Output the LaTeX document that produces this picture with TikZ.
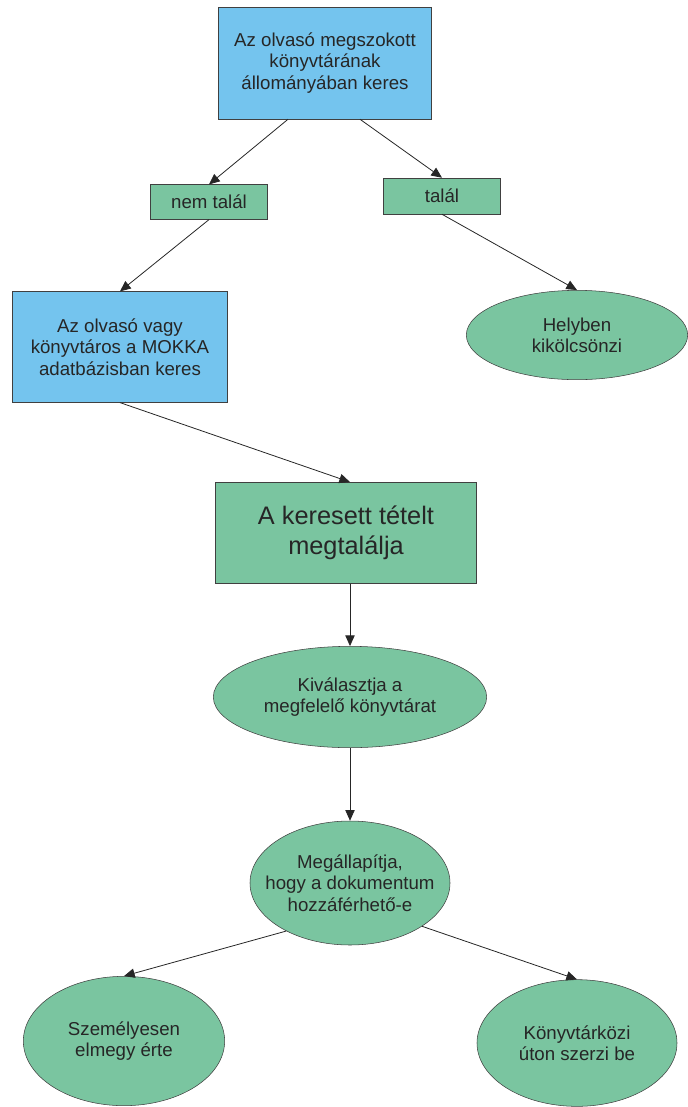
\documentclass[tikz,border=0pt]{standalone}
\usepackage{fontspec}
\setmainfont{Liberation Sans}
\usetikzlibrary{shapes.geometric,arrows.meta,calc}

\definecolor{boxblue}{RGB}{116,196,238}
\definecolor{boxgreen}{RGB}{122,197,160}
\definecolor{edgegray}{RGB}{64,64,64}

\begin{document}
\begin{tikzpicture}[x=0.75pt,y=-0.75pt,
    bluebox/.style={rectangle, draw=edgegray, fill=boxblue, text=black!85, align=center,
      font=\fontsize{14}{16}\selectfont},
    greenbox/.style={rectangle, draw=edgegray, fill=boxgreen, text=black!85, align=center,
      font=\fontsize{14}{16}\selectfont},
    oval/.style={ellipse, draw=edgegray, fill=boxgreen, text=black!85, align=center,
      inner sep=-15pt, font=\fontsize{14}{16}\selectfont},
    link/.style={draw=black!85, line width=0.6pt, -{Triangle[length=8pt,width=7pt]}}]

    % Fix the page size
    \useasboundingbox (0,0) rectangle (687,1107);

    % Search in the usual library
    \node[bluebox, minimum width=160pt, minimum height=84pt] (local) at (325,63)
      {Az olvasó megszokott\\könyvtárának\\állományában keres};

    % The two outcomes
    \node[greenbox, minimum width=88pt, minimum height=26pt] (notfound) at (209,202) {nem talál};
    \node[greenbox, minimum width=88pt, minimum height=27pt] (found) at (442,196) {talál};

    % Search in MOKKA and lending on the spot
    \node[bluebox, minimum width=161pt, minimum height=83pt] (mokka) at (120,347)
      {Az olvasó vagy\\könyvtáros a MOKKA\\adatbázisban keres};
    \node[oval, minimum width=166pt, minimum height=67pt] (onsite) at (577,335)
      {Helyben\\kikölcsönzi};

    % The item is found
    \node[greenbox, minimum width=196pt, minimum height=76pt,
      font=\fontsize{19}{22.5}\selectfont] (item) at (346,533)
      {A keresett tételt\\megtalálja};

    % Choosing the library and checking access
    \node[oval, minimum width=205pt, minimum height=76pt] (choose) at (350,697)
      {Kiválasztja a\\megfelelő könyvtárat};
    \node[oval, minimum width=150pt, minimum height=93pt] (check) at (350,883)
      {Megállapítja,\\hogy a dokumentum\\hozzáférhető-e};

    % The two ways to get it
    \node[oval, minimum width=151pt, minimum height=97pt] (personal) at (124,1041)
      {Személyesen\\elmegy érte};
    \node[oval, minimum width=150pt, minimum height=95pt] (ill) at (577,1043)
      {Könyvtárközi\\úton szerzi be};

    % Draw the connectors
    \draw[link] ($(local.south)+(-37,0)$) -- (notfound.north);
    \draw[link] ($(local.south)+(35,0)$) -- (found.north);
    \draw[link] (notfound.south) -- (mokka.north);
    \draw[link] (found.south) -- (onsite.north);
    \draw[link] (mokka.south) -- ($(item.north)+(4,0)$);
    \draw[link] (item.south -| choose.north) -- (choose.north);
    \draw[link] (choose.south) -- (check.north);
    \draw[link] (check.217) -- (personal.north);
    \draw[link] (check.329) -- (ill.north);

\end{tikzpicture}
\end{document}
